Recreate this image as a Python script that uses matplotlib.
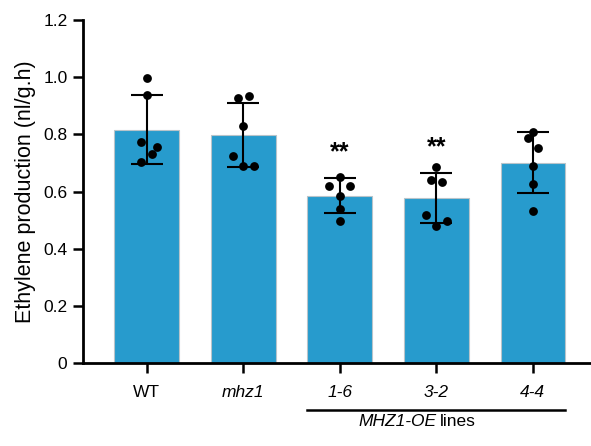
import matplotlib

matplotlib.use("Agg")
import matplotlib.pyplot as plt  # noqa: E402
import numpy as np  # noqa: E402

plt.rcParams["font.family"] = ["Liberation Sans Narrow", "Liberation Sans", "DejaVu Sans"]

groups = ["WT", "mhz1", "1-6", "3-2", "4-4"]
italic = [False, True, True, True, True]
means = [0.817, 0.799, 0.586, 0.577, 0.701]
sds = [0.122, 0.112, 0.060, 0.087, 0.107]
points = [
    [0.999, 0.939, 0.773, 0.755, 0.730, 0.705],
    [0.928, 0.934, 0.831, 0.725, 0.689, 0.689],
    [0.651, 0.621, 0.621, 0.584, 0.540, 0.497],
    [0.686, 0.642, 0.633, 0.519, 0.498, 0.481],
    [0.810, 0.789, 0.754, 0.691, 0.626, 0.533],
]
# horizontal spread of the dots (fraction of the group spacing)
jitter = [
    [0.0, 0.0, -0.055, 0.11, 0.055, -0.055],
    [-0.05, 0.055, 0.0, -0.11, 0.0, 0.11],
    [0.0, -0.11, 0.11, 0.0, 0.0, 0.0],
    [0.0, -0.055, 0.055, -0.11, 0.11, 0.0],
    [0.0, -0.055, 0.055, 0.0, 0.0, 0.0],
]
signif = {2: "**", 3: "**"}

bar_color = "#279bcd"

fig = plt.figure(figsize=(5.91, 4.46), dpi=100)
ax = fig.add_axes([0.140, 0.186, 0.858, 0.769])

x = np.arange(len(groups))
ax.bar(x, means, width=0.67, color=bar_color, edgecolor="#b8c4ca", linewidth=0.8, zorder=1)
ax.errorbar(x, means, yerr=sds, fmt="none", ecolor="black", elinewidth=1.5,
            capsize=11.5, capthick=1.5, zorder=2)
for i, (vals, dx) in enumerate(zip(points, jitter)):
    ax.scatter(x[i] + np.array(dx), vals, s=40, color="black", zorder=3, linewidths=0)
for i, s in signif.items():
    ax.text(x[i], means[i] + sds[i] + 0.09, s, ha="center", va="center",
            fontsize=18, fontweight="bold", family=["Liberation Sans", "DejaVu Sans"])

ax.set_xlim(-0.663, 4.59)
ax.set_ylim(0, 1.2)
ax.set_yticks([0, 0.2, 0.4, 0.6, 0.8, 1.0, 1.2])
ax.set_yticklabels(["0", "0.2", "0.4", "0.6", "0.8", "1.0", "1.2"])
ax.set_xticks(x)
ax.set_xticklabels(groups)
for lab, it in zip(ax.get_xticklabels(), italic):
    if it:
        lab.set_style("italic")
ax.tick_params(axis="both", direction="out", length=7, width=1.8, labelsize=12.5, pad=4)
ax.tick_params(axis="x", pad=9)
ax.set_ylabel("Ethylene production (nl/g.h)", fontsize=15.5,
              family=["Liberation Sans", "DejaVu Sans"], labelpad=5)
for side in ("top", "right"):
    ax.spines[side].set_visible(False)
for side in ("left", "bottom"):
    ax.spines[side].set_linewidth(2)

# group bracket under the OE lines
ax.plot([1.665, 4.33], [-0.165, -0.165], color="black", lw=1.8, clip_on=False)
ax.text(3.0, -0.18, "MHZ1-OE", ha="right", va="top", fontsize=12.5, style="italic")
ax.text(3.04, -0.18, "lines", ha="left", va="top", fontsize=12.5)

fig.savefig("out.png", dpi=100)
